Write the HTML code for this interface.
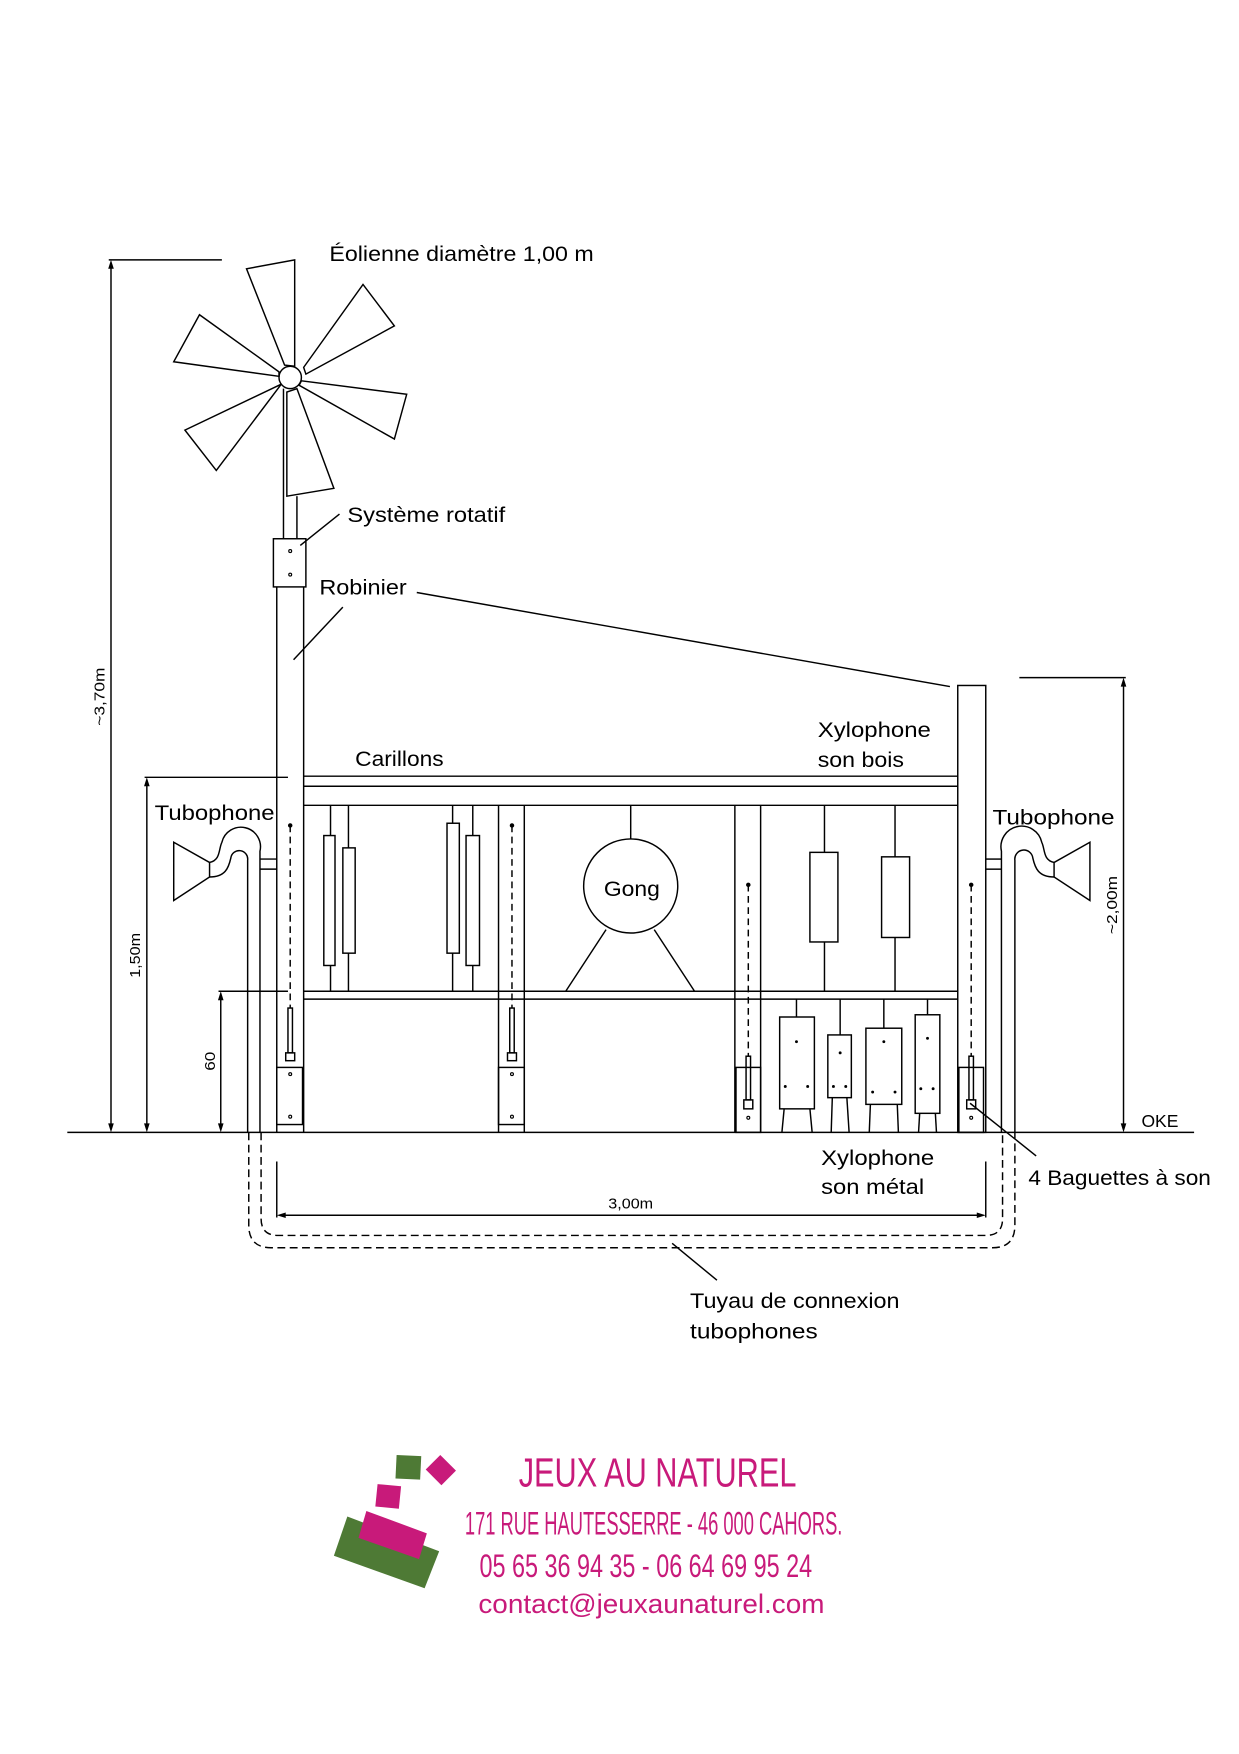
<!DOCTYPE html>
<html><head><meta charset="utf-8"><style>html,body{margin:0;padding:0;background:#fff}svg{display:block}</style></head>
<body>
<svg width="1239" height="1754" viewBox="0 0 1106 1566" xmlns="http://www.w3.org/2000/svg">
<rect width="1106" height="1566" fill="#fff"/>
<g fill="none" stroke="#000" stroke-width="1.3">
<!-- ground -->
<line x1="60" y1="1011" x2="1066" y2="1011"/>
<!-- dims -->
<line x1="97" y1="232" x2="198" y2="232"/><line x1="99" y1="236" x2="99" y2="1007"/>
<line x1="129" y1="694" x2="257" y2="694"/><line x1="131" y1="698" x2="131" y2="1007"/>
<line x1="195" y1="885" x2="257" y2="885"/><line x1="197" y1="889" x2="197" y2="1007"/>
<line x1="910" y1="605" x2="1005" y2="605"/><line x1="1003" y1="609" x2="1003" y2="1007"/>
<!-- windmill -->
<circle cx="259" cy="337" r="10"/>
<polygon points="254,326 220,240 263,232 263,327"/>
<polygon points="271,328 324,254 352,291 273,334"/>
<polygon points="249,332 178,281 155,323 249,336"/>
<polygon points="269,340 363,352 352,392 267,344"/>
<polygon points="251,343 165,384 193,420 248,347"/>
<polygon points="265,347 298,436 256,443 256,350"/>
<line x1="253" y1="347" x2="253" y2="481"/><line x1="265" y1="443" x2="265" y2="481"/>
<rect x="244" y="481" width="29" height="43"/>
<!-- left pole -->
<line x1="247" y1="524" x2="247" y2="1011"/><line x1="271" y1="524" x2="271" y2="1011"/>
<!-- right pole -->
<rect x="855" y="612" width="25" height="399"/>
<!-- beams -->
<line x1="271" y1="693" x2="855" y2="693"/><line x1="271" y1="702" x2="855" y2="702"/><line x1="271" y1="719" x2="855" y2="719"/>
<line x1="271" y1="885" x2="855" y2="885"/><line x1="271" y1="892" x2="855" y2="892"/>
<!-- mid posts -->
<line x1="445" y1="719" x2="445" y2="1011"/><line x1="468" y1="719" x2="468" y2="1011"/>
<line x1="656" y1="719" x2="656" y2="1011"/><line x1="679" y1="719" x2="679" y2="1011"/>
<!-- carillons -->
<line x1="295" y1="719" x2="295" y2="885"/><line x1="311" y1="719" x2="311" y2="885"/>
<line x1="404" y1="719" x2="404" y2="885"/><line x1="422" y1="719" x2="422" y2="885"/>
<rect x="289" y="746" width="10" height="116" fill="#fff"/><rect x="306" y="757" width="11" height="94" fill="#fff"/>
<rect x="399" y="735" width="11" height="116" fill="#fff"/><rect x="416" y="746" width="12" height="116" fill="#fff"/>
<!-- gong -->
<line x1="563" y1="719" x2="563" y2="749"/>
<circle cx="563" cy="791" r="42"/>
<line x1="541" y1="830" x2="505" y2="885"/><line x1="584" y1="830" x2="620" y2="885"/>
<!-- xylophone bois -->
<line x1="736" y1="719" x2="736" y2="885"/><line x1="799" y1="719" x2="799" y2="885"/>
<rect x="723" y="761" width="25" height="80" fill="#fff"/><rect x="787" y="765" width="25" height="72" fill="#fff"/>
<!-- xylophone metal -->
<line x1="711" y1="892" x2="711" y2="908"/><rect x="696" y="908" width="31" height="82"/>
<line x1="700" y1="990" x2="698" y2="1011"/><line x1="723" y1="990" x2="725" y2="1011"/>
<line x1="750" y1="892" x2="750" y2="924"/><rect x="739" y="924" width="21" height="56"/>
<line x1="743" y1="980" x2="742" y2="1011"/><line x1="756" y1="980" x2="758" y2="1011"/>
<line x1="789" y1="892" x2="789" y2="918"/><rect x="773" y="918" width="32" height="68"/>
<line x1="777" y1="986" x2="776" y2="1011"/><line x1="801" y1="986" x2="802" y2="1011"/>
<line x1="828" y1="892" x2="828" y2="906"/><rect x="817" y="906" width="22" height="88"/>
<line x1="821" y1="994" x2="820" y2="1011"/><line x1="835" y1="994" x2="836" y2="1011"/>
<!-- brackets -->
<rect x="247" y="953" width="23" height="51"/><rect x="445" y="953" width="23" height="51"/>
<rect x="657" y="953" width="22" height="58"/><rect x="856" y="953" width="22" height="58"/>
<!-- baguettes -->
<g stroke-dasharray="6,4"><line x1="259" y1="737" x2="259" y2="900"/><line x1="457" y1="737" x2="457" y2="900"/><line x1="668" y1="790" x2="668" y2="943"/><line x1="867" y1="790" x2="867" y2="943"/></g>
<rect x="257" y="900" width="4" height="40"/><rect x="255" y="940" width="8" height="7"/>
<rect x="455" y="900" width="4" height="40"/><rect x="453" y="940" width="8" height="7"/>
<rect x="666" y="943" width="4" height="39"/><rect x="664" y="982" width="8" height="8"/>
<rect x="865" y="943" width="4" height="39"/><rect x="863" y="982" width="8" height="8"/>
<!-- tubophone left -->
<path d="M155,752 L187,770 L187,783 L155,804 Z"/>
<path d="M187,770 C197,768 195,758 198,752 A17 17 0 0 1 232,760 L232,1011"/>
<path d="M187,783 C201,783 204,775 206,766 A7.5 7.5 0 0 1 221,768 L221,1011"/>
<line x1="232" y1="767" x2="247" y2="767"/><line x1="232" y1="776" x2="247" y2="776"/>
<!-- tubophone right -->
<path d="M973,752 L941,770 L941,783 L973,804 Z"/>
<path d="M941,770 C931,768 933,758 930,752 A17 17 0 0 0 894,760 L894,1011"/>
<path d="M941,783 C927,783 924,775 922,766 A7.5 7.5 0 0 0 906,768 L906,1011"/>
<line x1="880" y1="767" x2="894" y2="767"/><line x1="880" y1="776" x2="894" y2="776"/>
<!-- underground pipes -->
<g stroke-dasharray="7,4">
<path d="M233,1011 L233,1088 Q233,1103 248,1103 L880,1103 Q895,1103 895,1088 L895,1011"/>
<path d="M222,1011 L222,1094 Q222,1114 242,1114 L886,1114 Q906,1114 906,1094 L906,1011"/>
</g>
<!-- 3,00m -->
<line x1="247" y1="1037" x2="247" y2="1087"/><line x1="880" y1="1037" x2="880" y2="1087"/>
<line x1="251" y1="1085" x2="876" y2="1085"/>
<!-- leaders -->
<line x1="268" y1="487" x2="303" y2="459"/>
<line x1="262" y1="589" x2="306" y2="542"/>
<line x1="372" y1="529" x2="848" y2="613"/>
<line x1="866" y1="985" x2="925" y2="1032"/>
<line x1="600" y1="1110" x2="640" y2="1143"/>
</g>
<!-- arrowheads -->
<g fill="#000">
<polygon points="99,232 96.5,240 101.5,240"/><polygon points="99,1011 96.5,1003 101.5,1003"/>
<polygon points="131,694 128.5,702 133.5,702"/><polygon points="131,1011 128.5,1003 133.5,1003"/>
<polygon points="197,885 194.5,893 199.5,893"/><polygon points="197,1011 194.5,1003 199.5,1003"/>
<polygon points="1003,605 1000.5,613 1005.5,613"/><polygon points="1003,1011 1000.5,1003 1005.5,1003"/>
<polygon points="247,1085 255,1082.5 255,1087.5"/><polygon points="880,1085 872,1082.5 872,1087.5"/>
</g>
<g fill="none" stroke="#000" stroke-width="1">
<circle cx="259" cy="492" r="1.3"/><circle cx="259" cy="513" r="1.3"/>
<circle cx="259" cy="959" r="1.3"/><circle cx="259" cy="997" r="1.3"/>
<circle cx="457" cy="959" r="1.3"/><circle cx="457" cy="997" r="1.3"/>
<circle cx="668" cy="998" r="1.3"/><circle cx="867" cy="998" r="1.3"/>
</g>
<g fill="#000">
<circle cx="259" cy="737" r="2"/><circle cx="457" cy="737" r="2"/><circle cx="668" cy="790" r="2"/><circle cx="867" cy="790" r="2"/>
<circle cx="711" cy="930" r="1.3"/><circle cx="701" cy="970" r="1.3"/><circle cx="721" cy="970" r="1.3"/>
<circle cx="750" cy="940" r="1.3"/><circle cx="744" cy="970" r="1.3"/><circle cx="755" cy="970" r="1.3"/>
<circle cx="789" cy="930" r="1.3"/><circle cx="779" cy="975" r="1.3"/><circle cx="799" cy="975" r="1.3"/>
<circle cx="828" cy="927" r="1.3"/><circle cx="822" cy="972" r="1.3"/><circle cx="833" cy="972" r="1.3"/>
</g>
<!-- labels -->
<g font-family="Liberation Sans, sans-serif" font-size="19" fill="#000">
<text x="294" y="233" textLength="236" lengthAdjust="spacingAndGlyphs">Éolienne diamètre 1,00 m</text>
<text x="310" y="466" textLength="141" lengthAdjust="spacingAndGlyphs">Système rotatif</text>
<text x="285" y="531" textLength="78" lengthAdjust="spacingAndGlyphs">Robinier</text>
<text x="317" y="684" textLength="79" lengthAdjust="spacingAndGlyphs">Carillons</text>
<text x="730" y="658" textLength="101" lengthAdjust="spacingAndGlyphs">Xylophone</text>
<text x="730" y="685" textLength="77" lengthAdjust="spacingAndGlyphs">son bois</text>
<text x="138" y="732" textLength="107" lengthAdjust="spacingAndGlyphs">Tubophone</text>
<text x="886" y="736" textLength="109" lengthAdjust="spacingAndGlyphs">Tubophone</text>
<text x="539" y="800" textLength="50" lengthAdjust="spacingAndGlyphs">Gong</text>
<text x="733" y="1040" textLength="101" lengthAdjust="spacingAndGlyphs">Xylophone</text>
<text x="733" y="1066" textLength="92" lengthAdjust="spacingAndGlyphs">son métal</text>
<text x="918" y="1058" textLength="163" lengthAdjust="spacingAndGlyphs">4 Baguettes à son</text>
<text x="616" y="1168" textLength="187" lengthAdjust="spacingAndGlyphs">Tuyau de connexion</text>
<text x="616" y="1195" textLength="114" lengthAdjust="spacingAndGlyphs">tubophones</text>
<text x="1019" y="1006" font-size="16" textLength="33" lengthAdjust="spacingAndGlyphs">OKE</text>
<text x="543" y="1079" font-size="13" textLength="40" lengthAdjust="spacingAndGlyphs">3,00m</text>
<text transform="translate(93,648) rotate(-90)" font-size="13" textLength="52" lengthAdjust="spacingAndGlyphs">~3,70m</text>
<text transform="translate(125,873) rotate(-90)" font-size="13" textLength="40" lengthAdjust="spacingAndGlyphs">1,50m</text>
<text transform="translate(192,956) rotate(-90)" font-size="13" textLength="17" lengthAdjust="spacingAndGlyphs">60</text>
<text transform="translate(997,834) rotate(-90)" font-size="13" textLength="52" lengthAdjust="spacingAndGlyphs">~2,00m</text>
</g>
<!-- logo -->
<g fill="#4e7a35">
<polygon points="354,1299 376,1300 375,1321 353,1320"/>
<polygon points="310,1354 392,1385 379,1418 298,1389"/>
</g>
<g fill="#c81a7a">
<polygon points="393,1299 407,1313 394,1326 380,1312"/>
<polygon points="337,1325 358,1327 356,1347 335,1345"/>
<polygon points="327,1349 381,1369 374,1392 320,1373"/>
</g>
<g font-family="Liberation Sans Narrow, Liberation Sans, sans-serif" fill="#c81a7a">
<text x="463" y="1327" font-size="36" textLength="248" lengthAdjust="spacingAndGlyphs" font-weight="normal">JEUX AU NATUREL</text>
<text x="415" y="1370" font-size="29" textLength="337" lengthAdjust="spacingAndGlyphs">171 RUE HAUTESSERRE - 46 000 CAHORS.</text>
<text x="428" y="1408" font-size="29" textLength="297" lengthAdjust="spacingAndGlyphs">05 65 36 94 35 - 06 64 69 95 24</text>
</g>
<text x="427" y="1440" font-family="Liberation Sans, sans-serif" font-size="24" fill="#c81a7a" textLength="309" lengthAdjust="spacingAndGlyphs">contact@jeuxaunaturel.com</text>
</svg>
</body></html>
